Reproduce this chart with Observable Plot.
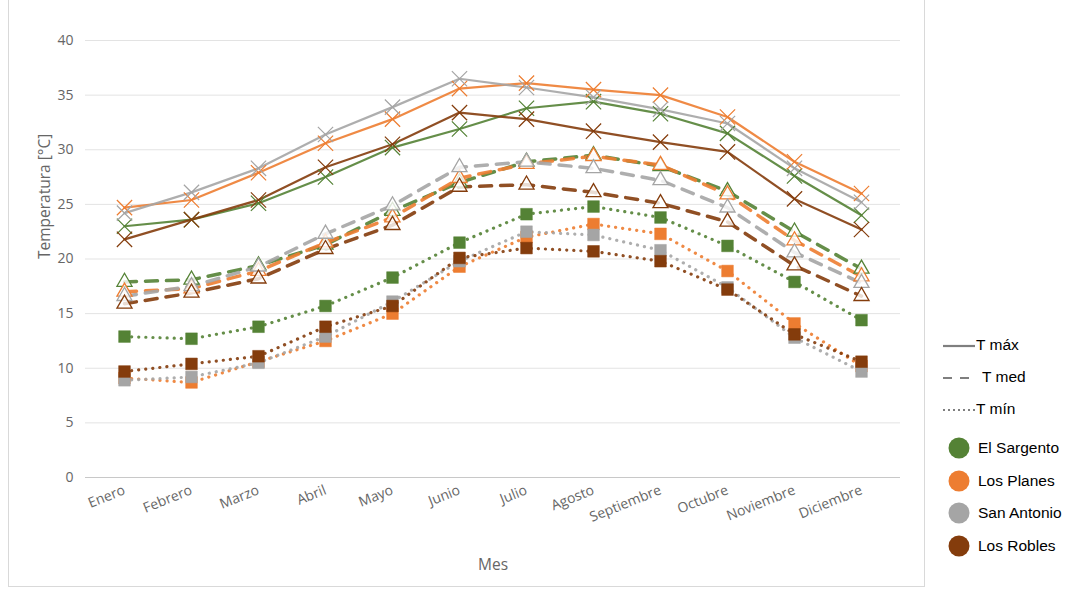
<!DOCTYPE html>
<html><head><meta charset="utf-8">
<script src="https://cdn.jsdelivr.net/npm/d3@7"></script>
<script src="https://cdn.jsdelivr.net/npm/@observablehq/plot@0.6"></script>
<style>
body{margin:0;background:#fff;}
#wrap{position:relative;width:1087px;height:589px;overflow:hidden;}
#frame{position:absolute;left:8px;top:-2px;width:917px;height:589px;border:1px solid #d9d9d9;box-sizing:border-box;}
#chart{position:absolute;left:0;top:0;}
#legend{position:absolute;left:940px;top:335px;font-family:"Liberation Sans",Arial,sans-serif;font-size:15.5px;color:#000;}
.li{position:absolute;left:0;white-space:nowrap;display:flex;align-items:center;}
</style>
</head><body>
<div id="wrap"><div id="frame"></div><div id="chart"></div><div id="legend"></div></div>
<script>
const months = ["Enero","Febrero","Marzo","Abril","Mayo","Junio","Julio","Agosto","Septiembre","Octubre","Noviembre","Diciembre"];
const stations = ["El Sargento","Los Planes","San Antonio","Los Robles"];
const stationColors = ["#548235","#ED7D31","#A5A5A5","#843C0C"];
const yTicks = [0,5,10,15,20,25,30,35,40];

const sargentoMax = [23.0,23.6,25.1,27.5,30.2,31.9,33.8,34.4,33.3,31.5,27.6,24.0];
const planesMax   = [24.7,25.4,27.9,30.6,32.8,35.6,36.1,35.5,35.0,33.0,28.9,26.0];
const antonioMax  = [24.2,26.1,28.3,31.4,33.9,36.5,35.7,34.8,33.7,32.4,28.3,25.2];
const roblesMax   = [21.8,23.6,25.4,28.4,30.5,33.4,32.8,31.7,30.7,29.8,25.5,22.7];

const sargentoMed = [17.9,18.1,19.4,21.3,24.4,27.0,28.9,29.5,28.5,26.2,22.5,19.1];
const planesMed   = [17.0,17.3,18.9,21.5,23.8,27.4,28.7,29.4,28.6,25.9,21.7,18.4];
const antonioMed  = [16.6,17.5,19.3,22.3,24.9,28.4,28.9,28.3,27.2,24.7,20.6,17.8];
const roblesMed   = [15.9,16.9,18.2,20.9,23.1,26.6,26.8,26.1,25.1,23.4,19.4,16.6];

const sargentoMin = [12.9,12.7,13.8,15.7,18.3,21.5,24.1,24.8,23.8,21.2,17.9,14.4];
const planesMin   = [9.1,8.7,10.6,12.5,15.0,19.3,22.0,23.2,22.3,18.9,14.1,10.2];
const antonioMin  = [8.9,9.2,10.5,12.9,16.1,19.8,22.5,22.2,20.8,17.4,12.8,9.7];
const roblesMin   = [9.7,10.4,11.1,13.8,15.7,20.1,21.0,20.7,19.8,17.2,13.1,10.6];

const seriesMax = [sargentoMax, planesMax, antonioMax, roblesMax];
const seriesMed = [sargentoMed, planesMed, antonioMed, roblesMed];
const seriesMin = [sargentoMin, planesMin, antonioMin, roblesMin];

function tidy(arrs, type) {
  const out = [];
  arrs.forEach((a, si) => a.forEach((v, mi) => out.push({month: months[mi], station: stations[si], type, value: v})));
  return out;
}
const dMax = tidy(seriesMax, "max");
const dMed = tidy(seriesMed, "med");
const dMin = tidy(seriesMin, "min");

const font = '"Open Sans", sans-serif';

const plot = Plot.plot({
  width: 925,
  height: 589,
  marginLeft: 85,
  marginRight: 25,
  marginTop: 40,
  marginBottom: 112,
  style: {fontFamily: font, fontSize: "13px", color: "#595959", background: "transparent"},
  x: {type: "point", domain: months, padding: 0.56, label: null},
  y: {domain: [0, 40], label: null},
  color: {domain: stations, range: stationColors},
  marks: [
    Plot.ruleY(yTicks.filter(d => d > 0), {stroke: "#e3e3e3", strokeWidth: 1}),
    Plot.ruleY([0], {stroke: "#c8c8c8", strokeWidth: 1}),
    Plot.axisY({ticks: yTicks, tickSize: 0, tickPadding: 12, fontSize: 14, fill: "#666", label: null}),
    Plot.axisX({tickSize: 0, tickPadding: 12, tickRotate: -22, fontSize: 14, fill: "#666", label: null}),
    Plot.text(["Mes"], {frameAnchor: "bottom", dy: 92, fontSize: 15.5, fill: "#666"}),
    Plot.text(["Temperatura [°C]"], {frameAnchor: "left", dx: -40, rotate: -90, fontSize: 15.5, fill: "#666"}),
    // min
    Plot.line(dMin, {x: "month", y: "value", z: "station", stroke: "station", strokeWidth: 3.2, strokeDasharray: "0.1,7", strokeLinecap: "round", strokeOpacity: 0.9}),
    Plot.dot(dMin, {x: "month", y: "value", fill: "station", symbol: "square", r: 6.6, stroke: "station", strokeWidth: 0.5}),
    // med
    Plot.line(dMed, {x: "month", y: "value", z: "station", stroke: "station", strokeWidth: 3.5, strokeDasharray: "12,9", strokeLinecap: "round", strokeOpacity: 0.9}),
    Plot.dot(dMed, {x: "month", y: "value", stroke: "station", fill: "white", fillOpacity: 0.8, symbol: "triangle", r: 5.6, strokeWidth: 1.3}),
    // max
    Plot.line(dMax, {x: "month", y: "value", z: "station", stroke: "station", strokeWidth: 2.2, strokeOpacity: 0.9}),
    Plot.dot(dMax, {x: "month", y: "value", stroke: "station", symbol: "times", r: 7, strokeWidth: 1.2})
  ]
});
document.getElementById("chart").appendChild(plot);

// legend
const leg = document.getElementById("legend");
const lineItems = [["T máx", "none"], ["T med", "9,8"], ["T mín", "2,3"]];
lineItems.forEach(([lab, dash], i) => {
  const div = document.createElement("div");
  div.className = "li";
  div.style.top = (i * 32) + "px";
  div.innerHTML = `<svg width="36" height="20"><line x1="3" x2="35" y1="11" y2="11" stroke="#7f7f7f" stroke-width="2.2" ${dash === "none" ? "" : `stroke-dasharray="${dash}"`}/></svg><span style="margin-left:${i===1?6:0}px">${lab}</span>`;
  leg.appendChild(div);
});
stations.forEach((s, i) => {
  const div = document.createElement("div");
  div.className = "li";
  div.style.top = (101 + i * 32.7) + "px";
  div.innerHTML = `<svg width="38" height="24"><circle cx="19" cy="12" r="10.5" fill="${stationColors[i]}"/></svg><span>${s}</span>`;
  leg.appendChild(div);
});
</script>
</body></html>
